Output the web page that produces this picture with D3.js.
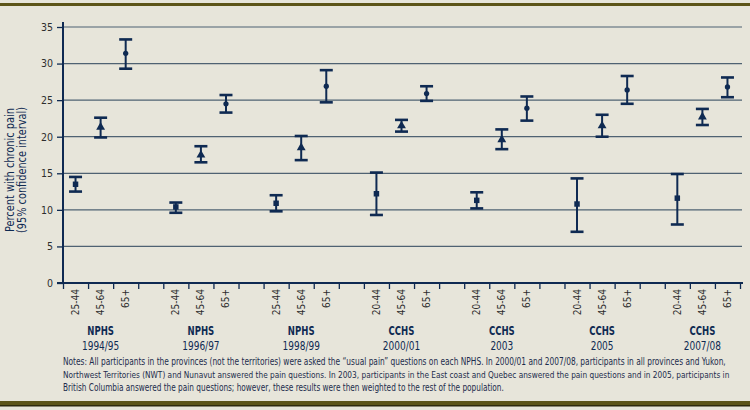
<!DOCTYPE html>
<html>
<head>
<meta charset="utf-8">
<script src="https://cdn.jsdelivr.net/npm/d3@7"></script>
<style>
  body { margin: 0; background: #e7e5da; }
  svg { display: block; font-family: "Liberation Sans Narrow", "DejaVu Sans Condensed", "Noto Sans", sans-serif; }
</style>
</head>
<body>
<svg></svg>
<script>
// données
const surveys = ["NPHS", "NPHS", "NPHS", "CCHS", "CCHS", "CCHS", "CCHS"];
const years = ["1994/95", "1996/97", "1998/99", "2000/01", "2003", "2005", "2007/08"];
const ageLabels = [
    ["25-44", "45-64", "65+"],
    ["25-44", "45-64", "65+"],
    ["25-44", "45-64", "65+"],
    ["20-44", "45-64", "65+"],
    ["20-44", "45-64", "65+"],
    ["20-44", "45-64", "65+"],
    ["20-44", "45-64", "65+"]
];
const estimates = [
    [13.5, 21.3, 31.4],
    [10.4, 17.5, 24.5],
    [10.9, 18.5, 26.9],
    [12.2, 21.5, 25.9],
    [11.3, 19.6, 23.9],
    [10.8, 21.5, 26.4],
    [11.6, 22.7, 26.8]
];
const lowerCI = [
    [12.5, 19.9, 29.3],
    [9.6, 16.5, 23.3],
    [9.8, 16.8, 24.7],
    [9.3, 20.7, 24.9],
    [10.2, 18.3, 22.2],
    [7.0, 20.0, 24.5],
    [8.0, 21.6, 25.4]
];
const upperCI = [
    [14.5, 22.6, 33.3],
    [11.0, 18.7, 25.7],
    [12.0, 20.1, 29.1],
    [15.1, 22.3, 26.9],
    [12.4, 21.0, 25.5],
    [14.3, 23.0, 28.3],
    [14.9, 23.8, 28.1]
];
const yTicks = [0, 5, 10, 15, 20, 25, 30, 35];
const notes = [
    "Notes: All participants in the provinces (not the territories) were asked the \u201cusual pain\u201d questions on each NPHS. In 2000/01 and 2007/08, participants in all provinces and Yukon,",
    "Northwest Territories (NWT) and Nunavut answered the pain questions. In 2003, participants in the East coast and Quebec answered the pain questions and in 2005, participants in",
    "British Columbia answered the pain questions; however, these results were then weighted to the rest of the population."
];
const notesLength = [663, 667, 441];

const navy = "#0f2a52";
const width = 750, height = 410;

const svg = d3.select("svg")
    .attr("width", width)
    .attr("height", height);

svg.append("rect").attr("width", width).attr("height", height).attr("fill", "#e7e5da");

// bandes du cadre
svg.append("rect").attr("x", 0).attr("y", 3).attr("width", width).attr("height", 3).attr("fill", "#5c5418");
svg.append("rect").attr("x", 0).attr("y", 401).attr("width", width).attr("height", 5).attr("fill", "#5c5418");
svg.append("rect").attr("x", 0).attr("y", 405).attr("width", width).attr("height", 1.5).attr("fill", "#2e2a0c");

// points : un emplacement par groupe d'âge + un vide entre enquêtes
const points = [];
estimates.forEach((row, g) => {
    row.forEach((v, a) => {
        points.push({
            slot: g * 4 + a,
            age: a,
            label: ageLabels[g][a],
            est: v,
            lo: lowerCI[g][a],
            hi: upperCI[g][a]
        });
    });
});
const nSlots = surveys.length * 4 - 1;

const xScale = d3.scaleLinear()
    .domain([0, nSlots])
    .range([63, 740]);

const yScale = d3.scaleLinear()
    .domain([0, 35])
    .range([283, 27]);

// grille
svg.append("g")
    .selectAll("line")
    .data(yTicks.filter(d => d > 0))
    .enter()
    .append("line")
    .attr("x1", 63)
    .attr("x2", 742)
    .attr("y1", d => yScale(d))
    .attr("y2", d => yScale(d))
    .attr("stroke", "#4f6272")
    .attr("stroke-width", 1.2);

// axe y
const yAxisGroup = svg.append("g").attr("transform", "translate(63,0)");
yAxisGroup.call(d3.axisLeft(yScale).tickValues(yTicks).tickSize(6).tickPadding(4));
yAxisGroup.select(".domain").remove();
yAxisGroup.selectAll(".tick line").attr("stroke", navy).attr("stroke-width", 1.3);
yAxisGroup.selectAll("text")
    .attr("fill", "#2e2e2e")
    .attr("font-size", 10.5)
    .attr("font-family", "'Liberation Sans Narrow', 'DejaVu Sans Condensed', sans-serif");
yAxisGroup.append("line")
    .attr("x1", 0).attr("x2", 0)
    .attr("y1", 22).attr("y2", yScale(0))
    .attr("stroke", navy).attr("stroke-width", 2);

// axe x
const xAxisGroup = svg.append("g").attr("transform", `translate(0, ${yScale(0)})`);
xAxisGroup.call(d3.axisBottom(xScale).tickValues(d3.range(nSlots + 1)).tickSize(6).tickFormat(""));
xAxisGroup.select(".domain").remove();
xAxisGroup.selectAll(".tick line").attr("stroke", navy).attr("stroke-width", 1.3);
xAxisGroup.append("line")
    .attr("x1", 57).attr("x2", 743)
    .attr("y1", 0).attr("y2", 0)
    .attr("stroke", navy).attr("stroke-width", 2);

// étiquettes d'âge verticales
svg.append("g")
    .selectAll("text")
    .data(points)
    .enter()
    .append("text")
    .attr("transform", d => `translate(${xScale(d.slot + 0.5) + 3.5}, 289) rotate(-90)`)
    .attr("text-anchor", "end")
    .attr("font-size", 10)
    .attr("fill", "#2e2e2e")
    .text(d => d.label);

// étiquettes des enquêtes (police resserrée)
const groupLabels = svg.append("g")
    .selectAll("g")
    .data(surveys)
    .enter()
    .append("g")
    .attr("transform", (d, i) => `translate(${xScale(i * 4 + 1.5)}, 0)`);
groupLabels.append("text")
    .attr("transform", "translate(0,335) scale(0.76,1)")
    .attr("text-anchor", "middle")
    .attr("fill", navy)
    .attr("font-size", 12.5)
    .attr("font-weight", "bold")
    .text(d => d);
groupLabels.append("text")
    .attr("transform", "translate(0,350) scale(0.8,1)")
    .attr("text-anchor", "middle")
    .attr("fill", navy)
    .attr("font-size", 12.5)
    .text((d, i) => years[i]);

// titre de l'axe y
const yTitle = svg.append("text")
    .attr("transform", "translate(0,170) rotate(-90)")
    .attr("text-anchor", "middle")
    .attr("fill", navy)
    .attr("font-size", 11.5);
yTitle.append("tspan").attr("x", 0).attr("y", 14).attr("textLength", 124).attr("lengthAdjust", "spacingAndGlyphs").text("Percent with chronic pain");
yTitle.append("tspan").attr("x", 0).attr("y", 26).attr("textLength", 126).attr("lengthAdjust", "spacingAndGlyphs").text("(95% confidence interval)");

// barres d'erreur
const bars = svg.append("g")
    .selectAll("g")
    .data(points)
    .enter()
    .append("g")
    .attr("transform", d => `translate(${xScale(d.slot + 0.5)},0)`);

bars.append("line")
    .attr("y1", d => yScale(d.lo))
    .attr("y2", d => yScale(d.hi))
    .attr("stroke", navy)
    .attr("stroke-width", 2);
bars.append("line")
    .attr("x1", -6.5).attr("x2", 6.5)
    .attr("y1", d => yScale(d.hi))
    .attr("y2", d => yScale(d.hi))
    .attr("stroke", navy)
    .attr("stroke-width", 2.6);
bars.append("line")
    .attr("x1", -6.5).attr("x2", 6.5)
    .attr("y1", d => yScale(d.lo))
    .attr("y2", d => yScale(d.lo))
    .attr("stroke", navy)
    .attr("stroke-width", 2.6);

// marqueurs : carré, triangle, rond
const shapes = [d3.symbolSquare, d3.symbolTriangle, d3.symbolCircle];
const sizes = [30, 34, 22];
bars.append("path")
    .attr("transform", d => `translate(0, ${yScale(d.est)})`)
    .attr("d", d => d3.symbol().type(shapes[d.age]).size(sizes[d.age])())
    .attr("fill", navy);

// notes : on resserre chaque ligne à la largeur voulue
svg.append("g")
    .selectAll("text")
    .data(notes)
    .enter()
    .append("text")
    .attr("font-size", 9.6)
    .attr("fill", "#1c2c4c")
    .text(d => d)
    .each(function(d, i) {
        const natural = this.getComputedTextLength();
        const sx = notesLength[i] / natural;
        d3.select(this).attr("transform", `translate(63, ${365 + i * 13}) scale(${sx},1)`);
    });
</script>
</body>
</html>
